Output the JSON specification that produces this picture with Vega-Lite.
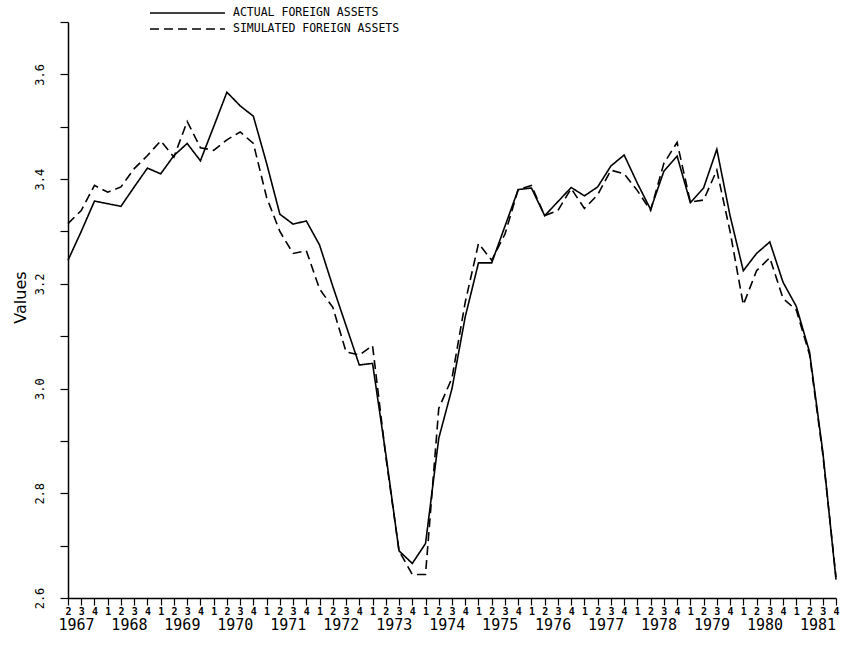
{
  "$schema": "https://vega.github.io/schema/vega-lite/v6.json",
  "width": 768,
  "height": 576,
  "autosize": {"type": "none"},
  "padding": {"left": 68, "top": 22, "right": 9, "bottom": 49},
  "background": "white",
  "config": {"view": {"stroke": null}, "font": "DejaVu Sans Mono"},
  "datasets": {
    "fa": [
      {"t": 0, "period": "1967Q2", "series": "ACTUAL FOREIGN ASSETS", "value": 3.245},
      {"t": 1, "period": "1967Q3", "series": "ACTUAL FOREIGN ASSETS", "value": 3.300},
      {"t": 2, "period": "1967Q4", "series": "ACTUAL FOREIGN ASSETS", "value": 3.358},
      {"t": 3, "period": "1968Q1", "series": "ACTUAL FOREIGN ASSETS", "value": 3.353},
      {"t": 4, "period": "1968Q2", "series": "ACTUAL FOREIGN ASSETS", "value": 3.348},
      {"t": 5, "period": "1968Q3", "series": "ACTUAL FOREIGN ASSETS", "value": 3.385},
      {"t": 6, "period": "1968Q4", "series": "ACTUAL FOREIGN ASSETS", "value": 3.421},
      {"t": 7, "period": "1969Q1", "series": "ACTUAL FOREIGN ASSETS", "value": 3.410},
      {"t": 8, "period": "1969Q2", "series": "ACTUAL FOREIGN ASSETS", "value": 3.445},
      {"t": 9, "period": "1969Q3", "series": "ACTUAL FOREIGN ASSETS", "value": 3.468},
      {"t": 10, "period": "1969Q4", "series": "ACTUAL FOREIGN ASSETS", "value": 3.435},
      {"t": 11, "period": "1970Q1", "series": "ACTUAL FOREIGN ASSETS", "value": 3.500},
      {"t": 12, "period": "1970Q2", "series": "ACTUAL FOREIGN ASSETS", "value": 3.566},
      {"t": 13, "period": "1970Q3", "series": "ACTUAL FOREIGN ASSETS", "value": 3.540},
      {"t": 14, "period": "1970Q4", "series": "ACTUAL FOREIGN ASSETS", "value": 3.520},
      {"t": 15, "period": "1971Q1", "series": "ACTUAL FOREIGN ASSETS", "value": 3.430},
      {"t": 16, "period": "1971Q2", "series": "ACTUAL FOREIGN ASSETS", "value": 3.333},
      {"t": 17, "period": "1971Q3", "series": "ACTUAL FOREIGN ASSETS", "value": 3.314},
      {"t": 18, "period": "1971Q4", "series": "ACTUAL FOREIGN ASSETS", "value": 3.320},
      {"t": 19, "period": "1972Q1", "series": "ACTUAL FOREIGN ASSETS", "value": 3.274},
      {"t": 20, "period": "1972Q2", "series": "ACTUAL FOREIGN ASSETS", "value": 3.195},
      {"t": 21, "period": "1972Q3", "series": "ACTUAL FOREIGN ASSETS", "value": 3.120},
      {"t": 22, "period": "1972Q4", "series": "ACTUAL FOREIGN ASSETS", "value": 3.045},
      {"t": 23, "period": "1973Q1", "series": "ACTUAL FOREIGN ASSETS", "value": 3.048},
      {"t": 24, "period": "1973Q2", "series": "ACTUAL FOREIGN ASSETS", "value": 2.875},
      {"t": 25, "period": "1973Q3", "series": "ACTUAL FOREIGN ASSETS", "value": 2.690},
      {"t": 26, "period": "1973Q4", "series": "ACTUAL FOREIGN ASSETS", "value": 2.666},
      {"t": 27, "period": "1974Q1", "series": "ACTUAL FOREIGN ASSETS", "value": 2.704},
      {"t": 28, "period": "1974Q2", "series": "ACTUAL FOREIGN ASSETS", "value": 2.905},
      {"t": 29, "period": "1974Q3", "series": "ACTUAL FOREIGN ASSETS", "value": 3.000},
      {"t": 30, "period": "1974Q4", "series": "ACTUAL FOREIGN ASSETS", "value": 3.137},
      {"t": 31, "period": "1975Q1", "series": "ACTUAL FOREIGN ASSETS", "value": 3.240},
      {"t": 32, "period": "1975Q2", "series": "ACTUAL FOREIGN ASSETS", "value": 3.240},
      {"t": 33, "period": "1975Q3", "series": "ACTUAL FOREIGN ASSETS", "value": 3.310},
      {"t": 34, "period": "1975Q4", "series": "ACTUAL FOREIGN ASSETS", "value": 3.380},
      {"t": 35, "period": "1976Q1", "series": "ACTUAL FOREIGN ASSETS", "value": 3.383},
      {"t": 36, "period": "1976Q2", "series": "ACTUAL FOREIGN ASSETS", "value": 3.330},
      {"t": 37, "period": "1976Q3", "series": "ACTUAL FOREIGN ASSETS", "value": 3.357},
      {"t": 38, "period": "1976Q4", "series": "ACTUAL FOREIGN ASSETS", "value": 3.384},
      {"t": 39, "period": "1977Q1", "series": "ACTUAL FOREIGN ASSETS", "value": 3.368},
      {"t": 40, "period": "1977Q2", "series": "ACTUAL FOREIGN ASSETS", "value": 3.385},
      {"t": 41, "period": "1977Q3", "series": "ACTUAL FOREIGN ASSETS", "value": 3.425},
      {"t": 42, "period": "1977Q4", "series": "ACTUAL FOREIGN ASSETS", "value": 3.446},
      {"t": 43, "period": "1978Q1", "series": "ACTUAL FOREIGN ASSETS", "value": 3.392},
      {"t": 44, "period": "1978Q2", "series": "ACTUAL FOREIGN ASSETS", "value": 3.342},
      {"t": 45, "period": "1978Q3", "series": "ACTUAL FOREIGN ASSETS", "value": 3.415},
      {"t": 46, "period": "1978Q4", "series": "ACTUAL FOREIGN ASSETS", "value": 3.444},
      {"t": 47, "period": "1979Q1", "series": "ACTUAL FOREIGN ASSETS", "value": 3.355},
      {"t": 48, "period": "1979Q2", "series": "ACTUAL FOREIGN ASSETS", "value": 3.383},
      {"t": 49, "period": "1979Q3", "series": "ACTUAL FOREIGN ASSETS", "value": 3.457},
      {"t": 50, "period": "1979Q4", "series": "ACTUAL FOREIGN ASSETS", "value": 3.330},
      {"t": 51, "period": "1980Q1", "series": "ACTUAL FOREIGN ASSETS", "value": 3.225},
      {"t": 52, "period": "1980Q2", "series": "ACTUAL FOREIGN ASSETS", "value": 3.258},
      {"t": 53, "period": "1980Q3", "series": "ACTUAL FOREIGN ASSETS", "value": 3.280},
      {"t": 54, "period": "1980Q4", "series": "ACTUAL FOREIGN ASSETS", "value": 3.203},
      {"t": 55, "period": "1981Q1", "series": "ACTUAL FOREIGN ASSETS", "value": 3.157},
      {"t": 56, "period": "1981Q2", "series": "ACTUAL FOREIGN ASSETS", "value": 3.070},
      {"t": 57, "period": "1981Q3", "series": "ACTUAL FOREIGN ASSETS", "value": 2.880},
      {"t": 58, "period": "1981Q4", "series": "ACTUAL FOREIGN ASSETS", "value": 2.635},
      {"t": 0, "period": "1967Q2", "series": "SIMULATED FOREIGN ASSETS", "value": 3.315},
      {"t": 1, "period": "1967Q3", "series": "SIMULATED FOREIGN ASSETS", "value": 3.340},
      {"t": 2, "period": "1967Q4", "series": "SIMULATED FOREIGN ASSETS", "value": 3.388},
      {"t": 3, "period": "1968Q1", "series": "SIMULATED FOREIGN ASSETS", "value": 3.375},
      {"t": 4, "period": "1968Q2", "series": "SIMULATED FOREIGN ASSETS", "value": 3.385},
      {"t": 5, "period": "1968Q3", "series": "SIMULATED FOREIGN ASSETS", "value": 3.420},
      {"t": 6, "period": "1968Q4", "series": "SIMULATED FOREIGN ASSETS", "value": 3.445},
      {"t": 7, "period": "1969Q1", "series": "SIMULATED FOREIGN ASSETS", "value": 3.473},
      {"t": 8, "period": "1969Q2", "series": "SIMULATED FOREIGN ASSETS", "value": 3.442},
      {"t": 9, "period": "1969Q3", "series": "SIMULATED FOREIGN ASSETS", "value": 3.510},
      {"t": 10, "period": "1969Q4", "series": "SIMULATED FOREIGN ASSETS", "value": 3.460},
      {"t": 11, "period": "1970Q1", "series": "SIMULATED FOREIGN ASSETS", "value": 3.455},
      {"t": 12, "period": "1970Q2", "series": "SIMULATED FOREIGN ASSETS", "value": 3.475},
      {"t": 13, "period": "1970Q3", "series": "SIMULATED FOREIGN ASSETS", "value": 3.490},
      {"t": 14, "period": "1970Q4", "series": "SIMULATED FOREIGN ASSETS", "value": 3.468},
      {"t": 15, "period": "1971Q1", "series": "SIMULATED FOREIGN ASSETS", "value": 3.365},
      {"t": 16, "period": "1971Q2", "series": "SIMULATED FOREIGN ASSETS", "value": 3.300},
      {"t": 17, "period": "1971Q3", "series": "SIMULATED FOREIGN ASSETS", "value": 3.258},
      {"t": 18, "period": "1971Q4", "series": "SIMULATED FOREIGN ASSETS", "value": 3.263},
      {"t": 19, "period": "1972Q1", "series": "SIMULATED FOREIGN ASSETS", "value": 3.190},
      {"t": 20, "period": "1972Q2", "series": "SIMULATED FOREIGN ASSETS", "value": 3.155},
      {"t": 21, "period": "1972Q3", "series": "SIMULATED FOREIGN ASSETS", "value": 3.070},
      {"t": 22, "period": "1972Q4", "series": "SIMULATED FOREIGN ASSETS", "value": 3.064},
      {"t": 23, "period": "1973Q1", "series": "SIMULATED FOREIGN ASSETS", "value": 3.082},
      {"t": 24, "period": "1973Q2", "series": "SIMULATED FOREIGN ASSETS", "value": 2.870},
      {"t": 25, "period": "1973Q3", "series": "SIMULATED FOREIGN ASSETS", "value": 2.690},
      {"t": 26, "period": "1973Q4", "series": "SIMULATED FOREIGN ASSETS", "value": 2.645},
      {"t": 27, "period": "1974Q1", "series": "SIMULATED FOREIGN ASSETS", "value": 2.645},
      {"t": 28, "period": "1974Q2", "series": "SIMULATED FOREIGN ASSETS", "value": 2.962},
      {"t": 29, "period": "1974Q3", "series": "SIMULATED FOREIGN ASSETS", "value": 3.020},
      {"t": 30, "period": "1974Q4", "series": "SIMULATED FOREIGN ASSETS", "value": 3.165},
      {"t": 31, "period": "1975Q1", "series": "SIMULATED FOREIGN ASSETS", "value": 3.277},
      {"t": 32, "period": "1975Q2", "series": "SIMULATED FOREIGN ASSETS", "value": 3.245},
      {"t": 33, "period": "1975Q3", "series": "SIMULATED FOREIGN ASSETS", "value": 3.295},
      {"t": 34, "period": "1975Q4", "series": "SIMULATED FOREIGN ASSETS", "value": 3.380},
      {"t": 35, "period": "1976Q1", "series": "SIMULATED FOREIGN ASSETS", "value": 3.388},
      {"t": 36, "period": "1976Q2", "series": "SIMULATED FOREIGN ASSETS", "value": 3.330},
      {"t": 37, "period": "1976Q3", "series": "SIMULATED FOREIGN ASSETS", "value": 3.340},
      {"t": 38, "period": "1976Q4", "series": "SIMULATED FOREIGN ASSETS", "value": 3.382},
      {"t": 39, "period": "1977Q1", "series": "SIMULATED FOREIGN ASSETS", "value": 3.344},
      {"t": 40, "period": "1977Q2", "series": "SIMULATED FOREIGN ASSETS", "value": 3.370},
      {"t": 41, "period": "1977Q3", "series": "SIMULATED FOREIGN ASSETS", "value": 3.417},
      {"t": 42, "period": "1977Q4", "series": "SIMULATED FOREIGN ASSETS", "value": 3.410},
      {"t": 43, "period": "1978Q1", "series": "SIMULATED FOREIGN ASSETS", "value": 3.378},
      {"t": 44, "period": "1978Q2", "series": "SIMULATED FOREIGN ASSETS", "value": 3.340},
      {"t": 45, "period": "1978Q3", "series": "SIMULATED FOREIGN ASSETS", "value": 3.430},
      {"t": 46, "period": "1978Q4", "series": "SIMULATED FOREIGN ASSETS", "value": 3.470},
      {"t": 47, "period": "1979Q1", "series": "SIMULATED FOREIGN ASSETS", "value": 3.356},
      {"t": 48, "period": "1979Q2", "series": "SIMULATED FOREIGN ASSETS", "value": 3.360},
      {"t": 49, "period": "1979Q3", "series": "SIMULATED FOREIGN ASSETS", "value": 3.417},
      {"t": 50, "period": "1979Q4", "series": "SIMULATED FOREIGN ASSETS", "value": 3.300},
      {"t": 51, "period": "1980Q1", "series": "SIMULATED FOREIGN ASSETS", "value": 3.160},
      {"t": 52, "period": "1980Q2", "series": "SIMULATED FOREIGN ASSETS", "value": 3.225},
      {"t": 53, "period": "1980Q3", "series": "SIMULATED FOREIGN ASSETS", "value": 3.250},
      {"t": 54, "period": "1980Q4", "series": "SIMULATED FOREIGN ASSETS", "value": 3.172},
      {"t": 55, "period": "1981Q1", "series": "SIMULATED FOREIGN ASSETS", "value": 3.150},
      {"t": 56, "period": "1981Q2", "series": "SIMULATED FOREIGN ASSETS", "value": 3.065},
      {"t": 57, "period": "1981Q3", "series": "SIMULATED FOREIGN ASSETS", "value": 2.875},
      {"t": 58, "period": "1981Q4", "series": "SIMULATED FOREIGN ASSETS", "value": 2.640}
    ]
  },
  "data": {"name": "fa"},
  "encoding": {
    "y": {
      "field": "value",
      "type": "quantitative",
      "scale": {"domain": [2.6, 3.7], "nice": false, "zero": false},
      "axis": {
        "values": [2.6, 2.7, 2.8, 2.9, 3.0, 3.1, 3.2, 3.3, 3.4, 3.5, 3.6, 3.7],
        "labelExpr": "round(datum.value * 10) % 2 == 0 ? format(datum.value, '.1f') : ''",
        "grid": false,
        "title": "Values",
        "titleFont": "DejaVu Sans",
        "titleFontSize": 16,
        "titleFontWeight": "normal",
        "titleColor": "black",
        "titleAngle": 270,
        "titleAlign": "center",
        "titleBaseline": "middle",
        "titleX": -48,
        "titleY": 275,
        "labelAngle": 270,
        "labelAlign": "center",
        "labelBaseline": "bottom",
        "labelPadding": 14,
        "labelFont": "DejaVu Sans Mono",
        "labelFontSize": 12,
        "labelColor": "black",
        "labelOverlap": false,
        "labelFlush": false,
        "labelBound": false,
        "tickSize": 8,
        "tickColor": "black",
        "tickWidth": 1.2,
        "domainColor": "black",
        "domainWidth": 1.5
      }
    }
  },
  "layer": [
    {
      "mark": {"type": "line", "color": "black", "strokeWidth": 1.6},
      "encoding": {
        "x": {
          "field": "t",
          "type": "quantitative",
          "scale": {"domain": [0, 58], "nice": false, "zero": false},
          "axis": {
            "orient": "bottom",
            "values": [0,1,2,3,4,5,6,7,8,9,10,11,12,13,14,15,16,17,18,19,20,21,22,23,24,25,26,27,28,29,30,31,32,33,34,35,36,37,38,39,40,41,42,43,44,45,46,47,48,49,50,51,52,53,54,55,56,57,58],
            "labelExpr": "toString((round(datum.value) + 1) % 4 + 1)",
            "title": null,
            "grid": false,
            "tickSize": 7,
            "tickColor": "black",
            "tickWidth": 1.2,
            "domainColor": "black",
            "domainWidth": 1.5,
            "labelPadding": 1,
            "labelFont": "DejaVu Sans Mono",
            "labelFontSize": 10,
            "labelFontWeight": "bold",
            "labelColor": "black",
            "labelOverlap": false,
            "labelFlush": false,
            "labelBound": false
          }
        },
        "strokeDash": {
          "field": "series",
          "type": "nominal",
          "scale": {"domain": ["ACTUAL FOREIGN ASSETS", "SIMULATED FOREIGN ASSETS"], "range": [[1, 0], [9, 5]]},
          "legend": {
            "orient": "none",
            "legendX": 112.5,
            "legendY": -16,
            "title": null,
            "direction": "vertical",
            "padding": 0,
            "symbolType": "M-6,0H6",
            "symbolSize": 156,
            "symbolStrokeWidth": 1.5,
            "symbolStrokeColor": "black",
            "symbolFillColor": "transparent",
            "labelFont": "DejaVu Sans Mono",
            "labelFontSize": 11.5,
            "labelColor": "black",
            "labelLimit": 400,
            "labelOffset": 38.5,
            "rowPadding": 3
          }
        }
      }
    },
    {
      "mark": {"type": "line", "strokeOpacity": 0},
      "encoding": {
        "x": {
          "field": "t",
          "type": "quantitative",
          "axis": {
            "orient": "bottom",
            "values": [0.6, 4.6, 8.6, 12.6, 16.6, 20.6, 24.6, 28.6, 32.6, 36.6, 40.6, 44.6, 48.6, 52.6, 56.6],
            "labelExpr": "toString(1967 + floor((datum.value + 1) / 4))",
            "title": null,
            "grid": false,
            "domain": false,
            "ticks": false,
            "labelPadding": 19,
            "labelFont": "DejaVu Sans Mono",
            "labelFontSize": 15,
            "labelFontWeight": "normal",
            "labelColor": "black",
            "labelOverlap": false,
            "labelFlush": false,
            "labelBound": false
          }
        },
        "detail": {"field": "series", "type": "nominal"}
      }
    }
  ],
  "resolve": {"axis": {"x": "independent"}}
}
